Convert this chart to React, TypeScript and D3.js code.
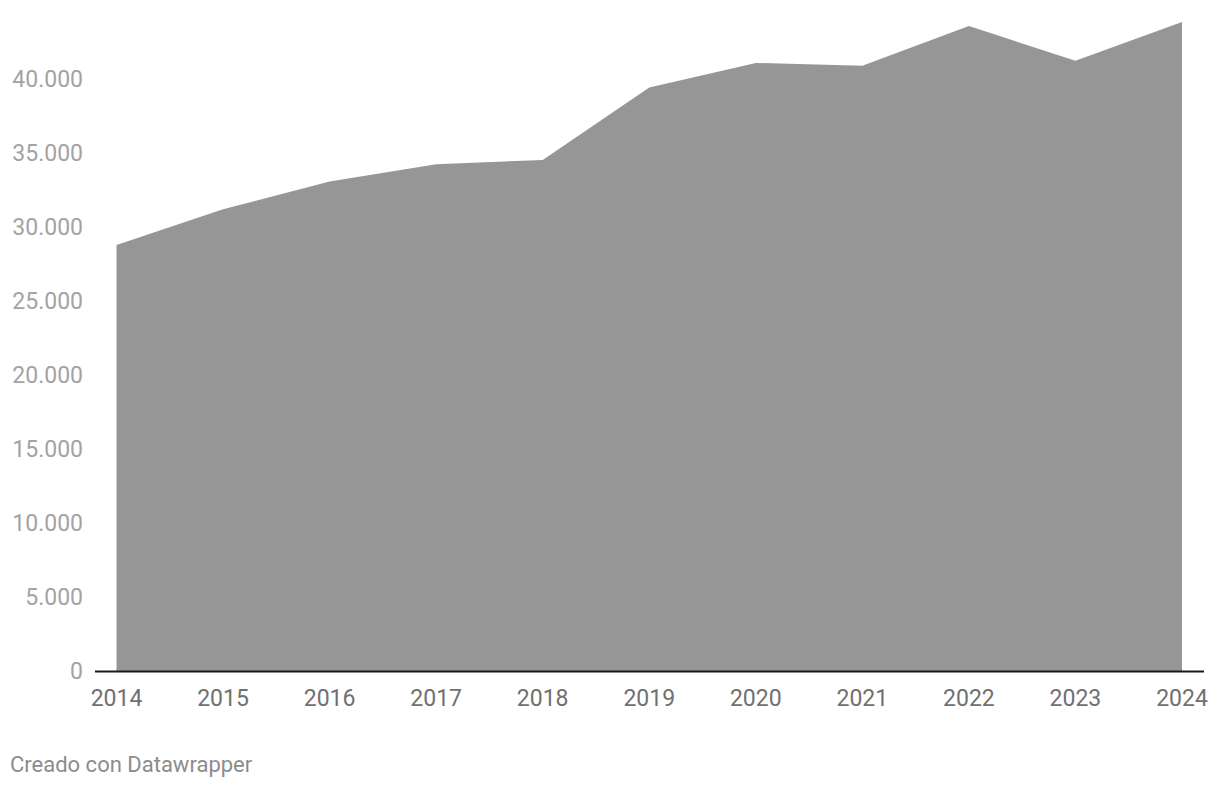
import React from "react";
import * as d3 from "d3";

const years = [2014, 2015, 2016, 2017, 2018, 2019, 2020, 2021, 2022, 2023, 2024];
const values = [28765, 31170, 33040, 34210, 34500, 39400, 41050, 40860, 43540, 41200, 43810];
const yTicks = [0, 5000, 10000, 15000, 20000, 25000, 30000, 35000, 40000];
const credit = "Creado con Datawrapper";

const W = 1220;
const H = 788;

export default function App() {
  const x = d3.scaleLinear().domain([2014, 2024]).range([116.5, 1182]);
  const y = d3.scaleLinear().domain([0, 40000]).range([671, 78.5]);
  const fmt = (v: number) => d3.format(",")(v).replace(/,/g, ".");
  const area = d3
    .area<number>()
    .x((_, i) => x(years[i]))
    .y0(y(0))
    .y1((d) => y(d));
  const data = values;
  return (
    <svg
      width={W}
      height={H}
      style={{ position: "absolute", left: 0, top: 0, fontFamily: "Roboto, sans-serif" }}
    >
      <rect width={W} height={H} fill="#fff" />
      <path d={area(data) || ""} fill="#969696" />
      <line x1={95} x2={1204} y1={y(0) + 0.5} y2={y(0) + 0.5} stroke="#1a1a1a" strokeWidth={2} />
      {yTicks.map((t) => (
        <text
          key={t}
          x={83}
          y={y(t)}
          dy="0.35em"
          textAnchor="end"
          fontSize={23}
          fill="#a3a3a3"
        >
          {fmt(t)}
        </text>
      ))}
      {years.map((yr) => (
        <text key={yr} x={x(yr)} y={706} textAnchor="middle" fontSize={23} fill="#707070">
          {yr}
        </text>
      ))}
      <text x={10} y={772} fontSize={22} fill="#8c8c8c">
        {credit}
      </text>
    </svg>
  );
}
